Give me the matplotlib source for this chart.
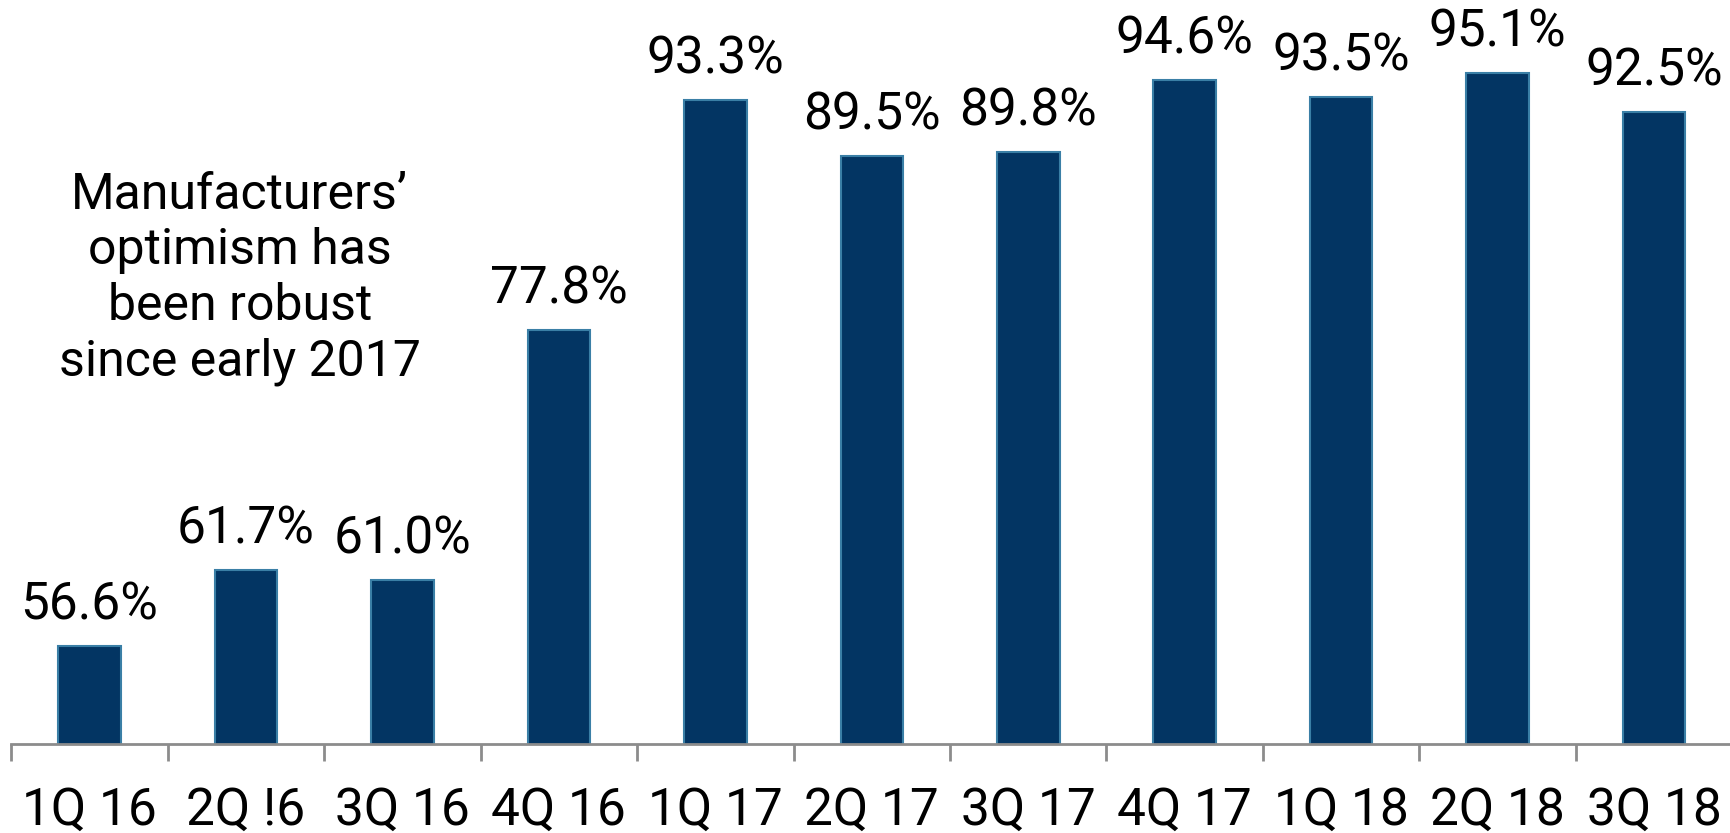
import matplotlib.pyplot as plt

quarters = ['1Q 16', '2Q !6', '3Q 16', '4Q 16', '1Q 17', '2Q 17',
            '3Q 17', '4Q 17', '1Q 18', '2Q 18', '3Q 18']
optimism = [56.6, 61.7, 61.0, 77.8, 93.3, 89.5, 89.8, 94.6, 93.5, 95.1, 92.5]
note = "Manufacturers\u2019\noptimism has\nbeen robust\nsince early 2017"

plt.rcParams['font.family'] = ['Roboto', 'DejaVu Sans']

fig = plt.figure(figsize=(17.31, 8.33), dpi=100)
ax = fig.add_axes([11.3 / 1731, 89 / 833, 1721 / 1731, 744 / 833])

x = range(len(quarters))
ax.bar(x, optimism, width=0.4, color='#033563', edgecolor='#3a7fa6', linewidth=1.5)

for i, v in zip(x, optimism):
    ax.annotate('{:.1f}%'.format(v), (i, v), xytext=(0, 19), textcoords='offset points',
                ha='center', va='baseline', fontsize=37, color='black')

ax.text(0.96, 81.3, note, ha='center', va='center', fontsize=36, linespacing=1.2)

ax.set_xlim(-0.5, len(quarters) - 0.5)
ax.set_ylim(50, 100)
ax.set_yticks([])
ax.set_xticks([i - 0.5 for i in range(len(quarters) + 1)])
ax.set_xticklabels([])
ax.set_xticks(list(x), minor=True)
ax.set_xticklabels(quarters, minor=True, fontsize=37)
ax.tick_params(axis='x', which='major', length=12, width=2, color='#8c8c8c', direction='out')
ax.tick_params(axis='x', which='minor', length=0, pad=30)
for s in ['top', 'right', 'left']:
    ax.spines[s].set_visible(False)
ax.spines['bottom'].set_color('#8c8c8c')
ax.spines['bottom'].set_linewidth(2)

plt.savefig('out.png', dpi=100)
